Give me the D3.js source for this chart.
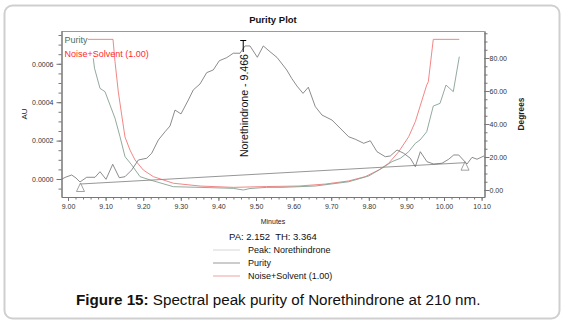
<!DOCTYPE html>
<html><head><meta charset="utf-8">
<script src="https://cdn.jsdelivr.net/npm/d3@7"></script>
<style>
html,body{margin:0;padding:0;background:#fff;}
svg{display:block;font-family:"Liberation Sans",Arial,sans-serif;}
</style></head>
<body><svg id="c" width="564" height="328"></svg>
<script>
// ---- data ----
const peakTime = [8.984, 8.9947, 9.0098, 9.0213, 9.0319, 9.0497, 9.0718, 9.0851, 9.1011, 9.1189, 9.1364, 9.1516, 9.1694, 9.1870, 9.2093, 9.2226, 9.2402, 9.2580, 9.2713, 9.2846, 9.3005, 9.3199, 9.3332, 9.3511, 9.3689, 9.3864, 9.4024, 9.4221, 9.4396, 9.4574, 9.4707, 9.4840, 9.5035, 9.5194, 9.5372, 9.5559, 9.5817, 9.5949, 9.6090, 9.6250, 9.6391, 9.6577, 9.6755, 9.7021, 9.7287, 9.7465, 9.7641, 9.7864, 9.8040, 9.8218, 9.8439, 9.8572, 9.8750, 9.8928, 9.9104, 9.9237, 9.9370, 9.9548, 9.9726, 9.9947, 10.0125, 10.0258, 10.0391, 10.0612, 10.0745, 10.0878, 10.1064];
const peakAU = [0, 0.0000104, 0.0000208, 0.0000052, -0.0000156, 0.0000089, 0.0000089, 0.000038, -0.0000016, 0.0000766, 0.0000068, 0.000012, 0.0000469, 0.000099, 0.000108, 0.000134, 0.000203, 0.000246, 0.000276, 0.000359, 0.000339, 0.000411, 0.000464, 0.000495, 0.000554, 0.000568, 0.000616, 0.000632, 0.000655, 0.000655, 0.000693, 0.000693, 0.000634, 0.000693, 0.000663, 0.000633, 0.000568, 0.000524, 0.000484, 0.000446, 0.000478, 0.000377, 0.000333, 0.000307, 0.000255, 0.000220, 0.000207, 0.000186, 0.000199, 0.000142, 0.000116, 0.000120, 0.000151, 0.000134, 0.000108, 0.000064, 0.000142, 0.000090, 0.000078, 0.000082, 0.000103, 0.000125, 0.000125, 0.000078, 0.000113, 0.000103, 0.000120];

const purityTime = [9.0673, 9.0705, 9.0851, 9.0984, 9.1117, 9.1250, 9.1383, 9.1516, 9.1694, 9.1915, 9.2181, 9.2801, 9.3511, 9.4396, 9.4662, 9.4840, 9.5285, 9.5691, 9.6577, 9.7465, 9.7997, 9.8351, 9.8617, 9.8838, 9.9061, 9.9237, 9.9362, 9.9540, 9.9715, 9.9894, 10.0053, 10.0247, 10.0407];
const purityDeg = [79.8, 73.8, 61.6, 59.6, 51.5, 43.5, 32.3, 20.2, 15.2, 8.1, 6.1, 2.0, 1.6, 1.0, 0.0, 0.9, 1.6, 1.6, 2.4, 5.0, 8.5, 13.2, 17.2, 19.2, 23.2, 28.3, 30.3, 35.3, 50.9, 52.5, 63.6, 59.6, 80.8];

const noiseTime = [9.0532, 9.1197, 9.1250, 9.1338, 9.1428, 9.1516, 9.1649, 9.1782, 9.2003, 9.2269, 9.2801, 9.3511, 9.4396, 9.5285, 9.6136, 9.6843, 9.7465, 9.7907, 9.8263, 9.8529, 9.8795, 9.9061, 9.9237, 9.9415, 9.9540, 9.9583, 9.9715, 10.0407];
const noiseDeg = [91.3, 91.3, 77.8, 59.4, 45.5, 32.1, 24.2, 18.2, 12.1, 8.1, 4.1, 2.4, 1.6, 2.1, 2.4, 3.6, 5.5, 8.1, 12.1, 16.2, 23.2, 32.3, 41.4, 54.5, 63.6, 65.6, 91.3, 91.3];

const baselineTime = [9.0332, 10.0559];
const baselineAU = [-0.000026, 0.000085];

const peakMarkerTime = 9.466;
const peakMarkerLabel = "Norethindrone - 9.466";

const xTicks = [9.0, 9.1, 9.2, 9.3, 9.4, 9.5, 9.6, 9.7, 9.8, 9.9, 10.0, 10.1];
const auTicks = [0.0000, 0.0002, 0.0004, 0.0006];
const degTicks = [0, 20, 40, 60, 80];

const titleText = "Purity Plot";
const xLabel = "Minutes";
const yLeftLabel = "AU";
const yRightLabel = "Degrees";
const paThText = "PA: 2.152  TH: 3.364";
const legendLabels = ["Peak: Norethindrone", "Purity", "Noise+Solvent (1.00)"];
const captionBold = "Figure 15:";
const captionRest = " Spectral peak purity of Norethindrone at 210 nm.";

// ---- layout ----
const L = 61.5, R = 484.5, T = 31, B = 197;
const svg = d3.select("#c");

svg.append("rect").attr("x", 4.5).attr("y", 5.5).attr("width", 555).attr("height", 313)
  .attr("rx", 8).attr("fill", "#fff").attr("stroke", "#cfcfcf").attr("stroke-width", 2);

const x = d3.scaleLinear().domain([8.9827, 10.1077]).range([L, R]);
const yAU = d3.scaleLinear().domain([-0.00009375, 0.0007708]).range([B, T]);
const yDeg = d3.scaleLinear().domain([-4.242, 96.364]).range([B, T]);

// plot frame top line
svg.append("line").attr("x1", L).attr("x2", R).attr("y1", T + 0.5).attr("y2", T + 0.5)
  .attr("stroke", "#9a9a9a").attr("stroke-width", 1);

const axisColor = "#777";
function styleAxis(g, fs) {
  g.select(".domain").attr("stroke", axisColor);
  g.selectAll(".tick line").attr("stroke", axisColor);
  g.selectAll(".tick text").attr("fill", "#333").style("font-size", fs + "px")
    .style("font-family", '"Liberation Sans",Arial,sans-serif');
}

// x axis minor
const xMinor = d3.range(9.0, 10.101, 0.02);
const gxm = svg.append("g").attr("transform", `translate(0,${B})`)
  .call(d3.axisBottom(x).tickValues(xMinor).tickSize(2.5).tickFormat("").tickSizeOuter(0));
styleAxis(gxm, 7);
const gx = svg.append("g").attr("transform", `translate(0,${B})`)
  .call(d3.axisBottom(x).tickValues(xTicks).tickSize(4).tickPadding(3).tickFormat(d3.format(".2f")).tickSizeOuter(0));
styleAxis(gx, 7);

// left axis
const auMinor = d3.range(-0.00005, 0.00076, 0.00005);
const gym = svg.append("g").attr("transform", `translate(${L},0)`)
  .call(d3.axisLeft(yAU).tickValues(auMinor).tickSize(3).tickFormat("").tickSizeOuter(0));
styleAxis(gym, 7);
const gy = svg.append("g").attr("transform", `translate(${L},0)`)
  .call(d3.axisLeft(yAU).tickValues(auTicks).tickSize(5).tickPadding(3).tickFormat(d3.format(".4f")).tickSizeOuter(0));
styleAxis(gy, 7);

// right axis
const degMinor = d3.range(-0, 96, 5);
const grm = svg.append("g").attr("transform", `translate(${R},0)`)
  .call(d3.axisRight(yDeg).tickValues(degMinor).tickSize(3).tickFormat("").tickSizeOuter(0));
styleAxis(grm, 7);
const gr = svg.append("g").attr("transform", `translate(${R},0)`)
  .call(d3.axisRight(yDeg).tickValues(degTicks).tickSize(5).tickPadding(0).tickFormat(d3.format(".2f")).tickSizeOuter(0));
styleAxis(gr, 7);

// series
const clip = svg.append("clipPath").attr("id", "pc").append("rect")
  .attr("x", L).attr("y", T).attr("width", R - L).attr("height", B - T);
const plot = svg.append("g").attr("clip-path", "url(#pc)");

const lineAU = d3.line().x(d => x(d[0])).y(d => yAU(d[1]));
const lineDeg = d3.line().x(d => x(d[0])).y(d => yDeg(d[1]));

plot.append("path").datum(d3.zip(noiseTime, noiseDeg)).attr("d", lineDeg)
  .attr("fill", "none").attr("stroke", "#f07878").attr("stroke-width", 0.9);
plot.append("path").datum(d3.zip(purityTime, purityDeg)).attr("d", lineDeg)
  .attr("fill", "none").attr("stroke", "#86a092").attr("stroke-width", 0.9);
plot.append("path").datum(d3.zip(baselineTime, baselineAU)).attr("d", lineAU)
  .attr("fill", "none").attr("stroke", "#8a8a8a").attr("stroke-width", 0.9);
plot.append("path").datum(d3.zip(peakTime, peakAU)).attr("d", lineAU)
  .attr("fill", "none").attr("stroke", "#6e6e6e").attr("stroke-width", 0.8);

// baseline triangles
d3.zip(baselineTime, baselineAU).forEach(d => {
  const cx = x(d[0]), cy = yAU(d[1]);
  plot.append("path").attr("d", `M${cx},${cy - 1}L${cx + 4},${cy + 7.5}L${cx - 4},${cy + 7.5}Z`)
    .attr("fill", "none").attr("stroke", "#8a8a8a").attr("stroke-width", 0.8);
});

// peak marker
const mx = x(peakMarkerTime);
svg.append("line").attr("x1", mx).attr("x2", mx).attr("y1", 40).attr("y2", 52)
  .attr("stroke", "#000").attr("stroke-width", 1);
svg.append("line").attr("x1", mx - 3).attr("x2", mx + 3).attr("y1", 40.5).attr("y2", 40.5)
  .attr("stroke", "#000").attr("stroke-width", 1);
svg.append("text").attr("transform", `translate(${mx + 4.5},54) rotate(-90)`)
  .attr("text-anchor", "end").style("font-size", "10.6px").attr("fill", "#111")
  .text(peakMarkerLabel);

// in-plot legend
svg.append("text").attr("x", 64.5).attr("y", 43.3).style("font-size", "9px")
  .attr("fill", "#4f6e60").text(legendLabels[1]);
svg.append("text").attr("x", 64.5).attr("y", 56.5).style("font-size", "9px")
  .attr("fill", "#ff2a2a").text(legendLabels[2]);

// titles
svg.append("text").attr("x", (L + R) / 2).attr("y", 22.7).attr("text-anchor", "middle")
  .style("font-size", "9.5px").style("font-weight", "bold").attr("fill", "#111").text(titleText);
svg.append("text").attr("x", (L + R) / 2).attr("y", 224.3).attr("text-anchor", "middle")
  .style("font-size", "7px").attr("fill", "#222").text(xLabel);
svg.append("text").attr("transform", `translate(27,${(T + B) / 2}) rotate(-90)`).attr("text-anchor", "middle")
  .style("font-size", "8px").attr("fill", "#222").text(yLeftLabel);
svg.append("text").attr("transform", `translate(524,${(T + B) / 2}) rotate(-90)`).attr("text-anchor", "middle")
  .style("font-size", "8.3px").style("font-weight", "bold").attr("fill", "#222").text(yRightLabel);

// PA / TH
svg.append("text").attr("x", 229).attr("y", 239.5).style("font-size", "9.5px")
  .style("white-space", "pre").attr("fill", "#111").text(paThText);

// bottom legend
const legColors = ["#d6d6d6", "#cccccc", "#f5c2c2"];
const legWidths = [1, 2, 1.5];
const legY = [250, 263, 276];
legendLabels.forEach((lab, i) => {
  svg.append("line").attr("x1", 213).attr("x2", 240).attr("y1", legY[i]).attr("y2", legY[i])
    .attr("stroke", legColors[i]).attr("stroke-width", legWidths[i]);
  svg.append("text").attr("x", 248).attr("y", legY[i] + 3.2).style("font-size", "9px")
    .attr("fill", "#111").text(lab);
});

// caption
const cap = svg.append("text").attr("x", 76).attr("y", 304.5).style("font-size", "15.2px").attr("fill", "#111");
cap.append("tspan").style("font-weight", "bold").text(captionBold);
cap.append("tspan").style("white-space", "pre").text(captionRest);
</script></body></html>
